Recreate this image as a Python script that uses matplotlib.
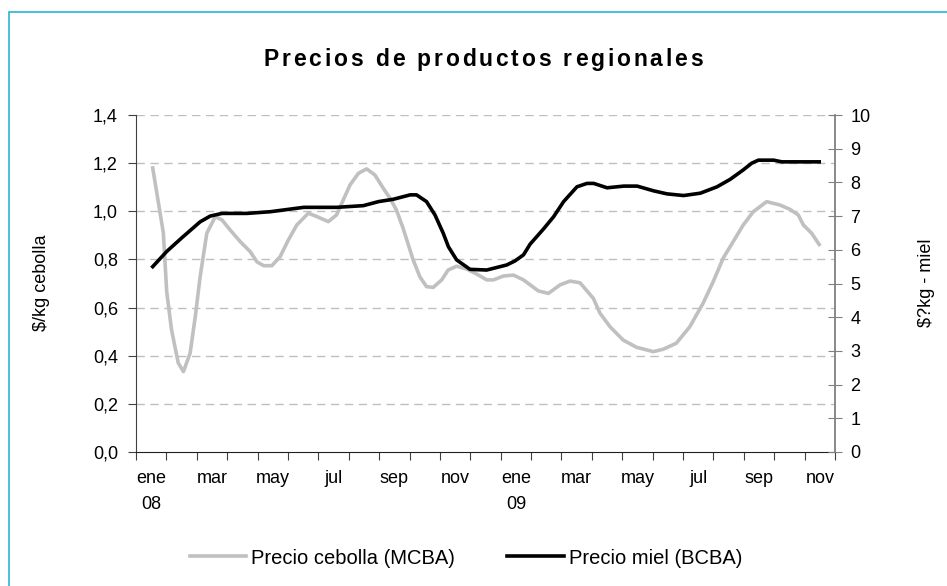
import matplotlib
matplotlib.use("Agg")
import matplotlib.pyplot as plt
from matplotlib.patches import Rectangle
from matplotlib.font_manager import FontProperties
import numpy as np

plt.rcParams['font.family'] = ['Liberation Sans', 'DejaVu Sans']

# meses: 0 = ene 08 ... 22 = nov 09
meses = ['ene\n08', 'feb', 'mar', 'abr', 'may', 'jun', 'jul', 'ago', 'sep', 'oct', 'nov', 'dic',
         'ene\n09', 'feb', 'mar', 'abr', 'may', 'jun', 'jul', 'ago', 'sep', 'oct', 'nov']

cebolla_x = [0.05, 0.4, 0.51, 0.67, 0.89, 1.06, 1.28, 1.45, 1.61, 1.83, 2.11, 2.33, 2.6, 2.93,
             3.26, 3.48, 3.7, 3.97, 4.24, 4.51, 4.79, 5.17, 5.45, 5.83, 6.1, 6.32, 6.54, 6.82,
             7.09, 7.36, 7.64, 7.86, 8.07, 8.29, 8.62, 8.84, 9.06, 9.28, 9.56, 9.77, 10.05,
             10.38, 10.7, 11.04, 11.26, 11.59, 11.92, 12.25, 12.74, 13.07, 13.45, 13.78, 14.11,
             14.55, 14.77, 15.1, 15.53, 15.97, 16.52, 16.85, 17.28, 17.72, 18.16, 18.49, 18.82,
             19.15, 19.48, 19.81, 20.25, 20.69, 21.02, 21.29, 21.46, 21.73, 21.98]
cebolla = [1.18, 0.91, 0.666, 0.507, 0.37, 0.334, 0.41, 0.562, 0.728, 0.909, 0.978, 0.964, 0.922,
           0.874, 0.832, 0.79, 0.774, 0.774, 0.811, 0.88, 0.943, 0.992, 0.978, 0.957, 0.985,
           1.047, 1.109, 1.158, 1.176, 1.151, 1.095, 1.054, 1.005, 0.929, 0.798, 0.728, 0.687,
           0.684, 0.715, 0.756, 0.772, 0.76, 0.74, 0.715, 0.715, 0.731, 0.735, 0.715, 0.669,
           0.659, 0.694, 0.71, 0.703, 0.638, 0.576, 0.52, 0.465, 0.435, 0.417, 0.427, 0.452,
           0.52, 0.618, 0.707, 0.805, 0.874, 0.943, 0.998, 1.04, 1.026, 1.008, 0.985, 0.943,
           0.909, 0.862]

miel_x = [0.05, 0.51, 1.0, 1.61, 1.94, 2.33, 3.15, 3.92, 5.02, 6.1, 6.98, 7.48, 7.97, 8.52, 8.73,
          9.06, 9.34, 9.61, 9.78, 10.05, 10.49, 11.04, 11.7, 11.97, 12.25, 12.47, 12.91, 13.24,
          13.57, 14.01, 14.34, 14.56, 15.0, 15.55, 15.99, 16.53, 16.97, 17.52, 18.07, 18.62,
          19.05, 19.48, 19.76, 19.98, 20.48, 20.75, 21.98]
miel = [5.5, 5.95, 6.35, 6.83, 7.0, 7.08, 7.08, 7.13, 7.26, 7.26, 7.31, 7.43, 7.5, 7.63, 7.63,
        7.43, 7.03, 6.49, 6.09, 5.7, 5.42, 5.4, 5.55, 5.67, 5.85, 6.17, 6.62, 6.98, 7.43, 7.87,
        7.97, 7.97, 7.84, 7.89, 7.89, 7.75, 7.66, 7.61, 7.68, 7.87, 8.09, 8.37, 8.57, 8.66, 8.66,
        8.61, 8.61]

W, H = 947, 586
fs = 13
fig = plt.figure(figsize=(W / 100, H / 100), dpi=100)
fig.patches.append(Rectangle((9 / W, -0.1), 1.2, (H - 12) / H + 0.1, transform=fig.transFigure,
                             fill=False, edgecolor='#3DB9DA', linewidth=1.3))

ax = fig.add_axes([136 / W, 1 - 452 / H, (835 - 136) / W, (452 - 115) / H])
ax2 = ax.twinx()

gris = '#C0C0C0'
ax.plot(cebolla_x, cebolla, color=gris, lw=2.6, solid_joinstyle='round', zorder=3)
ax2.plot(miel_x, miel, color='black', lw=2.6, solid_joinstyle='round', zorder=3)

ax.set_xlim(-0.5, len(meses) - 0.5)
ax.set_ylim(0, 1.4)
ax2.set_ylim(0, 10)

yt = np.arange(0, 1.41, 0.2)
ax.set_yticks(yt, [f'{v:.1f}'.replace('.', ',') for v in yt])
ax2.set_yticks(range(0, 11))
for v in yt[1:]:
    ax.axhline(v, color='#BFBFBF', lw=1, ls=(0, (6, 4)), zorder=1)

ax.set_xticks(np.arange(-0.5, len(meses)), [''] * (len(meses) + 1))
pos = np.arange(0, len(meses), 2)
ax.set_xticks(pos, [meses[i] for i in pos], minor=True)
for t in ax.get_xticklabels(minor=True):
    t.set_linespacing(1.7)
ax.tick_params(axis='x', which='minor', length=0, pad=13, labelsize=fs)
ax.tick_params(axis='x', which='major', length=6, direction='out', color='#404040')
ax.tick_params(axis='y', length=6, direction='out', labelsize=fs, color='#404040', pad=7)
ax2.tick_params(axis='y', length=10, direction='inout', labelsize=fs, color='#808080', pad=6)

for a in (ax, ax2):
    a.spines['top'].set_visible(False)
    a.set_facecolor('none')
ax.spines['right'].set_visible(False)
ax2.spines['left'].set_visible(False)
ax2.spines['bottom'].set_visible(False)
ax.spines['left'].set_color('#404040')
ax.spines['bottom'].set_color('#202020')
ax2.spines['right'].set_color('#808080')
ax2.spines['right'].set_linewidth(1.3)

fig.text(42 / W, 1 - 283 / H, '$/kg cebolla', rotation=90, ha='center', va='center', fontsize=fs)
fig.text(926 / W, 1 - 283 / H, '$?kg - miel', rotation=90, ha='center', va='center', fontsize=fs)

# titulo con espaciado entre letras
titulo = 'Precios de productos regionales'
fp = FontProperties(family='Liberation Sans', weight='bold', size=16.5)
fig.canvas.draw()
r = fig.canvas.get_renderer()
esp = 2.85
anchos = [r.get_text_width_height_descent(titulo[:i], fp, ismath=False)[0] if i else 0
          for i in range(len(titulo) + 1)]
total = anchos[-1] + esp * (len(titulo) - 1)
x0 = 483 - total / 2
for i, ch in enumerate(titulo):
    fig.text((x0 + anchos[i] + esp * i) / W, 1 - 66 / H, ch, fontproperties=fp, va='baseline')

# leyenda
l1, = ax.plot([], [], color=gris, lw=2.6)
l2, = ax.plot([], [], color='black', lw=2.6)
fig.legend([l1, l2], ['Precio cebolla (MCBA)', 'Precio miel (BCBA)'], loc='center',
           bbox_to_anchor=(466 / W, 1 - 558 / H), ncol=2, frameon=False, fontsize=14.5,
           handlelength=2.8, handletextpad=0.25, columnspacing=2.6)

fig.savefig('out.png', dpi=100)
